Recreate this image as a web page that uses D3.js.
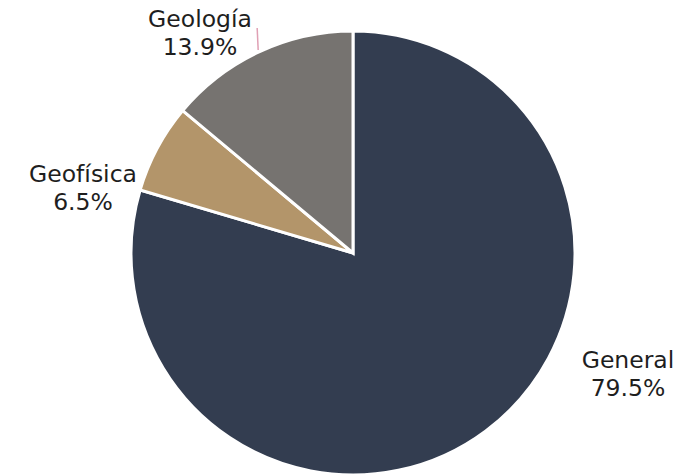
<!DOCTYPE html>
<html><head><meta charset="utf-8">
<script src="https://cdn.jsdelivr.net/npm/d3@7"></script>
<style>html,body{margin:0;padding:0;background:#fff;}</style>
</head><body>
<svg id="c" width="697" height="474"></svg>
<script>
const categories = ["General", "Geofísica", "Geología"];
const values = [79.5, 6.5, 13.9];
const colors = ["#333d50", "#b3956a", "#767370"];

const W = 697, H = 474, cx = 353, cy = 253, R = 222;
const svg = d3.select("#c");
const g = svg.append("g").attr("transform", `translate(${cx},${cy})`);

const data = categories.map((c, i) => ({name: c, value: values[i], color: colors[i]}));
const pie = d3.pie().value(d => d.value).sort(null);
const arc = d3.arc().innerRadius(0).outerRadius(R);
const arcs = pie(data);

g.selectAll("path").data(arcs).enter().append("path")
  .attr("d", arc).attr("fill", d => d.data.color)
  .attr("stroke", "#fff").attr("stroke-width", 3).attr("stroke-linejoin", "miter");

// label offsets relative to pie center (layout)
const labelPos = {"General": [275, 115], "Geofísica": [-270, -71], "Geología": [-153, -226]};
arcs.forEach(a => {
  const [lx, ly] = labelPos[a.data.name];
  const t = g.append("text").attr("text-anchor", "middle")
    .attr("font-family", "'DejaVu Sans', sans-serif").attr("font-size", 23.5)
    .attr("fill", "#1e1e1e");
  t.append("tspan").attr("x", lx).attr("y", ly).text(a.data.name);
  t.append("tspan").attr("x", lx).attr("y", ly + 28).text(a.data.value.toFixed(1) + "%");
});

// leader line for Geología
const geo = arcs[2];
const mid = (geo.startAngle + geo.endAngle) / 2;
const x0 = Math.sin(mid) * (R + 2), y0 = -Math.cos(mid) * (R + 2);
g.append("line").attr("x1", x0).attr("y1", y0).attr("x2", x0 - 1).attr("y2", y0 - 22)
  .attr("stroke", "#e0a0b4").attr("stroke-width", 1.5);
</script>
</body></html>
